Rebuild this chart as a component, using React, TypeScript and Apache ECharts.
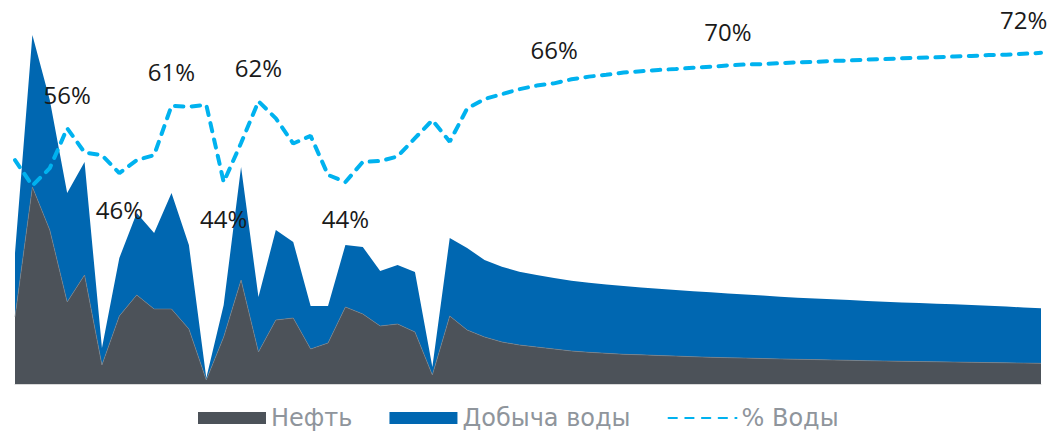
import React, { useEffect, useRef } from "react";
import * as echarts from "echarts";

const categories: string[] = Array.from({ length: 60 }, (_, i) => String(i + 1));

const oil: number[] = [
  67, 197, 154, 82, 109, 19, 68, 89, 75, 75,
  55, 4, 47, 104, 32, 64, 66, 35, 41, 77,
  70, 58, 60, 52, 9, 68, 54, 47, 42, 39,
  37, 35, 33, 31.7, 30.7, 29.7, 29.2, 28.5, 27.9, 27.3,
  26.7, 26.3, 25.9, 25.5, 25.1, 24.7, 24.4, 24.0, 23.7, 23.3,
  23.0, 22.7, 22.5, 22.2, 21.9, 21.7, 21.4, 21.2, 20.9, 20.7,
];

const water: number[] = [
  64, 152, 130, 109, 113, 17, 58, 82, 76, 116,
  84, 2, 32, 113, 55, 90, 76, 43, 37, 62,
  67, 55, 59, 60, 8, 78, 82, 77, 75.3, 73.3,
  72, 71, 70.3, 69.6, 68.9, 68.3, 67.4, 66.8, 66.1, 65.5,
  65, 64.3, 63.6, 62.9, 62.2, 61.6, 61.1, 60.7, 60.2, 59.8,
  59.3, 58.9, 58.5, 58.1, 57.8, 57.3, 56.8, 56.2, 55.7, 55,
];

const waterPct: number[] = [
  48.9, 43.2, 47.1, 56, 50.6, 50.0, 46, 48.9, 50.0, 61,
  60.8, 61.2, 44, 52.7, 62, 58.2, 52.6, 54.3, 45.6, 44,
  48.5, 48.7, 49.7, 53.8, 57.8, 53.0, 60.4, 62.5, 63.6, 64.7,
  65.5, 66, 66.9, 67.5, 67.9, 68.4, 68.7, 69.0, 69.2, 69.5,
  69.7, 70, 70.2, 70.3, 70.5, 70.7, 70.8, 71.0, 71.1, 71.3,
  71.4, 71.6, 71.7, 71.8, 72.0, 72.1, 72.3, 72.4, 72.6, 72.8,
];

// indices of labelled points, their text, and whether they sit above or below the line
const labelIdx: number[] = [3, 6, 9, 12, 14, 19, 31, 41, 58];
const labelText: string[] = ["56%", "46%", "61%", "44%", "62%", "44%", "66%", "70%", "72%"];
const labelBelow: boolean[] = [false, true, false, true, false, true, false, false, false];

const seriesNames: string[] = ["Нефть", "Добыча воды", "% Воды"];

export default function App() {
  const ref = useRef<HTMLDivElement>(null);

  useEffect(() => {
    if (!ref.current) return;
    const chart = echarts.init(ref.current, undefined, { renderer: "svg" });

    const pctData = waterPct.map((v, i) => {
      const k = labelIdx.indexOf(i);
      if (k < 0) return { value: v };
      const below = labelBelow[k];
      return {
        value: v,
        label: {
          show: true,
          formatter: labelText[k],
          position: below ? "bottom" : "top",
          distance: below ? 24 : 22,
        },
      };
    });

    chart.setOption({
      animation: false,
      grid: { left: 15, right: 12, top: 34, bottom: 47, containLabel: false },
      legend: {
        left: 198,
        top: 406,
        padding: 0,
        itemWidth: 68,
        itemHeight: 12,
        itemGap: 37,
        textStyle: {
          fontFamily: "DejaVu Sans",
          fontSize: 24,
          color: "#8f959c",
        },
        data: [
          { name: seriesNames[0], icon: "rect" },
          { name: seriesNames[1], icon: "rect" },
          { name: seriesNames[2], itemStyle: { opacity: 0 } },
        ],
      },
      xAxis: {
        type: "category",
        data: categories,
        boundaryGap: false,
        axisLine: { show: true, lineStyle: { color: "#d9d9d9", width: 1 } },
        axisTick: { show: false },
        axisLabel: { show: false },
        splitLine: { show: false },
      },
      yAxis: [
        { type: "value", min: 0, max: 350, show: false, splitLine: { show: false } },
        { type: "value", min: -1, max: 77, show: false, splitLine: { show: false } },
      ],
      series: [
        {
          name: seriesNames[0],
          type: "line",
          stack: "total",
          data: oil,
          symbol: "none",
          lineStyle: { width: 0.6, color: "#7d848c" },
          itemStyle: { color: "#4c5259" },
          areaStyle: { color: "#4c5259", opacity: 1 },
          z: 3,
        },
        {
          name: seriesNames[1],
          type: "line",
          stack: "total",
          data: water,
          symbol: "none",
          lineStyle: { width: 0 },
          itemStyle: { color: "#0067b1" },
          areaStyle: { color: "#0067b1", opacity: 1 },
          z: 2,
        },
        {
          name: seriesNames[2],
          type: "line",
          yAxisIndex: 1,
          data: pctData,
          symbol: "circle",
          symbolSize: 0.1,
          showAllSymbol: true,
          itemStyle: { color: "#00b2ef" },
          lineStyle: { color: "#00b2ef", width: 4, type: [8.4, 8.3], cap: "round" },
          label: {
            fontFamily: "Open Sans",
            fontSize: 24,
            color: "#1a1a1a",
          },
          z: 5,
        },
      ],
    });

    return () => chart.dispose();
  }, []);

  return <div ref={ref} style={{ width: 1053, height: 431, position: "absolute", left: 0, top: 0 }} />;
}
